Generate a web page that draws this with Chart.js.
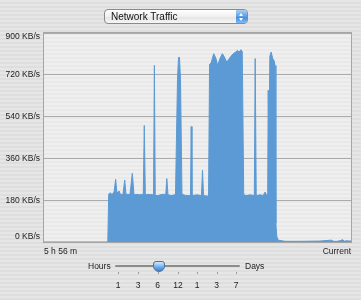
<!DOCTYPE html>
<html>
<head>
<meta charset="utf-8">
<script src="https://cdn.jsdelivr.net/npm/chart.js@4/dist/chart.umd.min.js"></script>
<style>
html,body{margin:0;padding:0;}
body{
width:361px;height:300px;overflow:hidden;position:relative;
font-family:"Liberation Sans","DejaVu Sans",sans-serif;
background:repeating-linear-gradient(to bottom,#e6e6e6 0px,#e6e6e6 2px,#dedede 2px,#dedede 4px);
}
#grafico{position:absolute;left:0;top:0;}
.seletor{
position:absolute;left:104px;top:9px;width:142px;height:13px;
border:1px solid #8a8a8a;border-radius:4px;
background:linear-gradient(to bottom,#ffffff,#f0f0f0 50%,#e4e4e4 51%,#f6f6f6);
font-size:10px;line-height:13px;color:#111;box-sizing:content-box;
}
.seletor span{position:absolute;left:6px;top:0;}
.seletor .seta{
position:absolute;right:0;top:0;width:11px;height:13px;border-radius:0 3px 3px 0;
background:linear-gradient(to bottom,#a9d0f5,#5a9ee6 50%,#3f86d8 51%,#7fbaf2);
}
.seta:before,.seta:after{content:"";position:absolute;left:3px;border-left:2.5px solid transparent;border-right:2.5px solid transparent;}
.seta:before{top:3px;border-bottom:3px solid #fff;}
.seta:after{top:8px;border-top:3px solid #fff;}
.txt{position:absolute;font-size:8.5px;color:#222;white-space:nowrap;}
.trilho{position:absolute;left:115px;top:265px;width:125px;height:2px;background:#8c8c8c;border-radius:1px;}
.botao{
position:absolute;left:153px;top:261px;width:10px;height:9px;border:1px solid #4a6f99;
border-radius:3px 3px 6px 6px;background:linear-gradient(to bottom,#d6e9fb,#6aa8ea 60%,#3b7fd0);
}
.risco{position:absolute;top:272px;width:1px;height:2px;background:#999;}
</style>
</head>
<body>
<canvas id="grafico" width="361" height="300"></canvas>
<div class="seletor"><span>Network Traffic</span><div class="seta"></div></div>
<div id="controle"></div>
<script>

// =============================
// DADOS
// =============================

// minutos desde o inicio da janela (5 h 56 m = 356 min)
const minutos = [
0,74,75,76.5,78.9,81.2,83.1,84.6,87,88.7,91.6,93.6,95.1,99.7,102.4,104.4,107.8,111.3,
115.1,116.3,117.5,120.6,127,128,129,132.2,136.8,141.2,142.4,143.8,148.4,152.5,154.8,156,
157.1,158.3,160,164.7,169.9,170.7,171.6,177.4,182.6,183.8,185,189,190.8,192,193.7,196.8,
199.4,201.4,204.1,206.8,208.7,211.9,213.9,216.8,219.5,222.3,224.2,226.1,228.4,229.9,231.6,
234.2,238.9,243.9,244.9,246.1,250.6,254.1,256.4,258.2,259.4,260,260.9,261.9,263.4,265.2,
266.9,267.9,268.9,269.9,271.6,279.5,297,320,333,336,339,342,346.5,348,350,356
];

// KB/s
const trafego = [
0,0,205,212,205,215,270,210,220,205,205,267,205,205,296,203,205,203,
205,502,203,205,203,761,200,200,205,205,273,203,200,205,700,795,
795,700,205,200,200,497,200,203,200,309,200,198,198,765,770,811,
790,761,790,811,800,775,785,800,811,818,825,818,828,820,205,
200,203,200,790,200,203,200,215,200,210,653,400,800,818,790,
780,760,80,25,8,3,3,4,8,3,3,4,10,3,5,4
];

const valoresEixoY = [0,180,360,540,720,900];
const unidade = "KB/s";

const rotuloInicio = "5 h 56 m";
const rotuloFim = "Current";

const marcasEscala = ["1","3","6","12","1","3","7"];


// =============================
// MOLDURA DO GRAFICO
// =============================

const moldura = {
id:"moldura",
beforeDraw(chart){
const {ctx, chartArea:a} = chart;
ctx.save();
ctx.fillStyle = "#efefef";
ctx.fillRect(a.left, a.top, a.right-a.left, a.bottom-a.top);
ctx.fillStyle = "#e9e9e9";
for(let y = a.top; y < a.bottom; y += 4){
ctx.fillRect(a.left, y, a.right-a.left, 2);
}
ctx.restore();
},
afterDraw(chart){
const {ctx, chartArea:a} = chart;
const escalaY = chart.scales.y;
ctx.save();
ctx.strokeStyle = "#a6a6a6";
ctx.lineWidth = 1;
ctx.strokeRect(a.left-0.5, a.top-0.5, a.right-a.left+1, a.bottom-a.top+1);

ctx.font = "8.5px 'Liberation Sans', sans-serif";
ctx.fillStyle = "#222";
ctx.textAlign = "right";
ctx.textBaseline = "middle";
valoresEixoY.forEach(v=>{
let y = escalaY.getPixelForValue(v);
y = Math.min(Math.max(y, a.top+4), a.bottom-5);
ctx.fillText(v + " " + unidade, a.left-4, y);
});

ctx.textBaseline = "middle";
ctx.textAlign = "left";
ctx.fillText(rotuloInicio, a.left, a.bottom+10);
ctx.textAlign = "right";
ctx.fillText(rotuloFim, a.right, a.bottom+10);
ctx.restore();
}
};


// =============================
// GRAFICO
// =============================

const pontos = minutos.map((m,i)=>({x:m, y:trafego[i]}));

new Chart(document.getElementById("grafico"),{
type:"line",
data:{
datasets:[{
data:pontos,
borderColor:"#5b9ad4",
backgroundColor:"#5b9ad4",
borderWidth:1,
pointRadius:0,
tension:0,
fill:"origin"
}]
},
options:{
responsive:false,
animation:false,
layout:{padding:{left:0,top:33,right:10,bottom:58}},
plugins:{legend:{display:false},tooltip:{enabled:false}},
scales:{
x:{type:"linear",min:0,max:356,display:false},
y:{
min:0,max:900,
ticks:{display:false,stepSize:180},
grid:{color:"#ababab",lineWidth:1,drawTicks:false},
border:{display:false},
afterFit:(s)=>{ s.width = 44; }
}
}
},
plugins:[moldura]
});


// =============================
// CONTROLE HORAS / DIAS
// =============================

const controle = document.getElementById("controle");
const posicoes = [118,138,157.5,178,197,216.5,236];

let html = `<div class="txt" style="left:88px;top:261px">Hours</div>
<div class="txt" style="left:245px;top:261px">Days</div>
<div class="trilho"></div>`;

marcasEscala.forEach((m,i)=>{
html += `<div class="risco" style="left:${posicoes[i]}px"></div>
<div class="txt" style="left:${posicoes[i]-10}px;width:20px;text-align:center;top:280px">${m}</div>`;
});

html += `<div class="botao"></div>`;
controle.innerHTML = html;

</script>
</body>
</html>
